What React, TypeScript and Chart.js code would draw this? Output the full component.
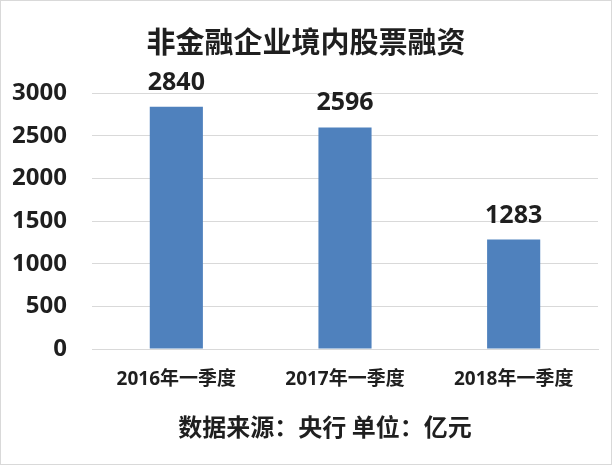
import React, { useEffect, useRef } from "react";
import { Chart, registerables } from "chart.js";

Chart.register(...registerables);

const titleText = "非金融企业境内股票融资";
const sourceText = "数据来源：央行 单位：亿元";
const categories = ["2016年一季度", "2017年一季度", "2018年一季度"];
const values = [2840, 2596, 1283];
const yTicks = [0, 500, 1000, 1500, 2000, 2500, 3000];

const FONT = '"Open Sans", "Noto Sans CJK SC", sans-serif';

const overlay = {
  id: "overlay",
  afterDatasetsDraw(chart: any) {
    const { ctx } = chart;
    ctx.save();
    ctx.fillStyle = "#1f1f1f";
    ctx.textAlign = "center";
    ctx.textBaseline = "alphabetic";
    ctx.font = `bold 25px ${FONT}`;
    const meta = chart.getDatasetMeta(0);
    meta.data.forEach((bar: any, i: number) => {
      ctx.fillText(String(values[i]), bar.x, bar.y - 17);
    });
    ctx.font = `bold 29px "Noto Sans CJK SC", sans-serif`;
    ctx.textBaseline = "middle";
    ctx.fillText(titleText, 306, 42);
    ctx.font = `bold 24px "Noto Sans CJK SC", sans-serif`;
    ctx.fillText(sourceText, 325, 427);
    ctx.strokeStyle = "#d9d9d9";
    ctx.lineWidth = 1;
    ctx.strokeRect(0.5, 0.5, chart.width - 1, chart.height - 1);
    ctx.restore();
  },
};

export default function App() {
  const ref = useRef<HTMLCanvasElement>(null);
  useEffect(() => {
    const chart = new Chart(ref.current!, {
      type: "bar",
      data: {
        labels: categories,
        datasets: [
          {
            data: values,
            backgroundColor: "#4F81BD",
            borderWidth: 0,
            barPercentage: 0.315,
            categoryPercentage: 1,
          },
        ],
      },
      options: {
        animation: false,
        responsive: false,
        maintainAspectRatio: false,
        layout: { padding: { top: 93, right: 14, left: 0, bottom: 0 } },
        plugins: {
          legend: { display: false },
          tooltip: { enabled: false },
        },
        scales: {
          x: {
            grid: { display: false, drawTicks: false },
            border: { display: true, color: "#d9d9d9" },
            ticks: {
              padding: 19,
              color: "#1f1f1f",
              font: { family: FONT, size: 19, weight: "bold" },
            },
            afterFit(scale: any) {
              scale.height = 116;
            },
          },
          y: {
            min: 0,
            max: 3000,
            afterBuildTicks(scale: any) {
              scale.ticks = yTicks.map((v) => ({ value: v }));
            },
            grid: { color: "#d9d9d9", drawTicks: false },
            border: { display: false },
            ticks: {
              padding: 25,
              color: "#1f1f1f",
              font: { family: FONT, size: 24, weight: "bold" },
              callback: (v: any) => String(v),
            },
            afterFit(scale: any) {
              scale.width = 92;
            },
          },
        },
      },
      plugins: [overlay],
    });
    return () => chart.destroy();
  }, []);
  return (
    <div style={{ position: "fixed", left: 0, top: 0, width: 612, height: 465, background: "#fff" }}>
      <canvas ref={ref} width={612} height={465} style={{ width: 612, height: 465 }} />
    </div>
  );
}
